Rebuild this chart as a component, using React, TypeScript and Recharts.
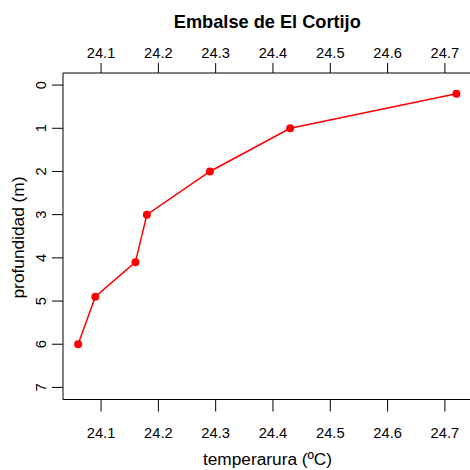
import React from 'react';
import { LineChart, Line, XAxis, YAxis, Customized } from 'recharts';

const temperature = [24.72, 24.43, 24.29, 24.18, 24.16, 24.09, 24.06];
const depth = [0.2, 1.0, 2.0, 3.0, 4.1, 4.9, 6.0];
const xTicks = [24.1, 24.2, 24.3, 24.4, 24.5, 24.6, 24.7];
const yTicks = [0, 1, 2, 3, 4, 5, 6, 7];

const title = 'Embalse de El Cortijo';
const xLabel = 'temperarura (ºC)';
const yLabel = 'profundidad (m)';

const data = temperature.map((t, i) => ({ temp: t, depth: depth[i] }));

const FONT = '"Liberation Sans", Arial, Helvetica, sans-serif';
const FS = 14.7;
const LFS = 17.3;

const TopTick = (props: any) => (
  <text x={props.x} y={57.5} textAnchor="middle" fontFamily={FONT} fontSize={FS} fill="#000">
    {String(props.payload.value)}
  </text>
);
const BottomTick = (props: any) => (
  <text x={props.x} y={437.5} textAnchor="middle" fontFamily={FONT} fontSize={FS} fill="#000">
    {String(props.payload.value)}
  </text>
);
const LeftTick = (props: any) => (
  <text
    x={46.5}
    y={props.y}
    textAnchor="middle"
    fontFamily={FONT}
    fontSize={FS}
    fill="#000"
    transform={`rotate(-90, 46.5, ${props.y})`}
  >
    {String(props.payload.value)}
  </text>
);

const Labels = () => (
  <g>
    <text x={267.3} y={28.3} textAnchor="middle" fontFamily={FONT} fontSize={18.2} fontWeight="bold" fill="#000">
      {title}
    </text>
    <text x={267.5} y={465} textAnchor="middle" fontFamily={FONT} fontSize={LFS} fill="#000">
      {xLabel}
    </text>
    <text
      x={24.3}
      y={237.5}
      textAnchor="middle"
      fontFamily={FONT}
      fontSize={LFS}
      fill="#000"
      transform="rotate(-90, 24.3, 237.5)"
    >
      {yLabel}
    </text>
  </g>
);

export default function App() {
  return (
    <div style={{ position: 'absolute', left: 0, top: 0, width: 470, height: 470, overflow: 'hidden', background: '#fff' }}>
      <LineChart width={480} height={470} data={data} margin={{ top: 0, right: 8.5, bottom: 0, left: 0 }}>
        <XAxis
          xAxisId="top"
          orientation="top"
          dataKey="temp"
          type="number"
          domain={[24.0336, 24.7464]}
          allowDataOverflow
          ticks={xTicks}
          height={73}
          tickSize={10}
          axisLine={{ stroke: '#000', strokeWidth: 1 }}
          tickLine={{ stroke: '#000', strokeWidth: 1 }}
          tick={<TopTick />}
        />
        <XAxis
          xAxisId="bottom"
          orientation="bottom"
          dataKey="temp"
          type="number"
          domain={[24.0336, 24.7464]}
          allowDataOverflow
          ticks={xTicks}
          height={70.5}
          tickSize={12}
          axisLine={{ stroke: '#000', strokeWidth: 1 }}
          tickLine={{ stroke: '#000', strokeWidth: 1 }}
          tick={<BottomTick />}
        />
        <YAxis
          yAxisId="left"
          dataKey="depth"
          type="number"
          reversed
          domain={[-0.28, 7.28]}
          allowDataOverflow
          ticks={yTicks}
          width={63}
          tickSize={11}
          axisLine={{ stroke: '#000', strokeWidth: 1 }}
          tickLine={{ stroke: '#000', strokeWidth: 1 }}
          tick={<LeftTick />}
        />
        <Line
          xAxisId="bottom"
          yAxisId="left"
          type="linear"
          dataKey="depth"
          stroke="#ff0000"
          strokeWidth={1.5}
          dot={{ r: 4, fill: '#ff0000', stroke: '#ff0000', strokeWidth: 0 }}
          isAnimationActive={false}
        />
        <Customized component={Labels} />
      </LineChart>
    </div>
  );
}
